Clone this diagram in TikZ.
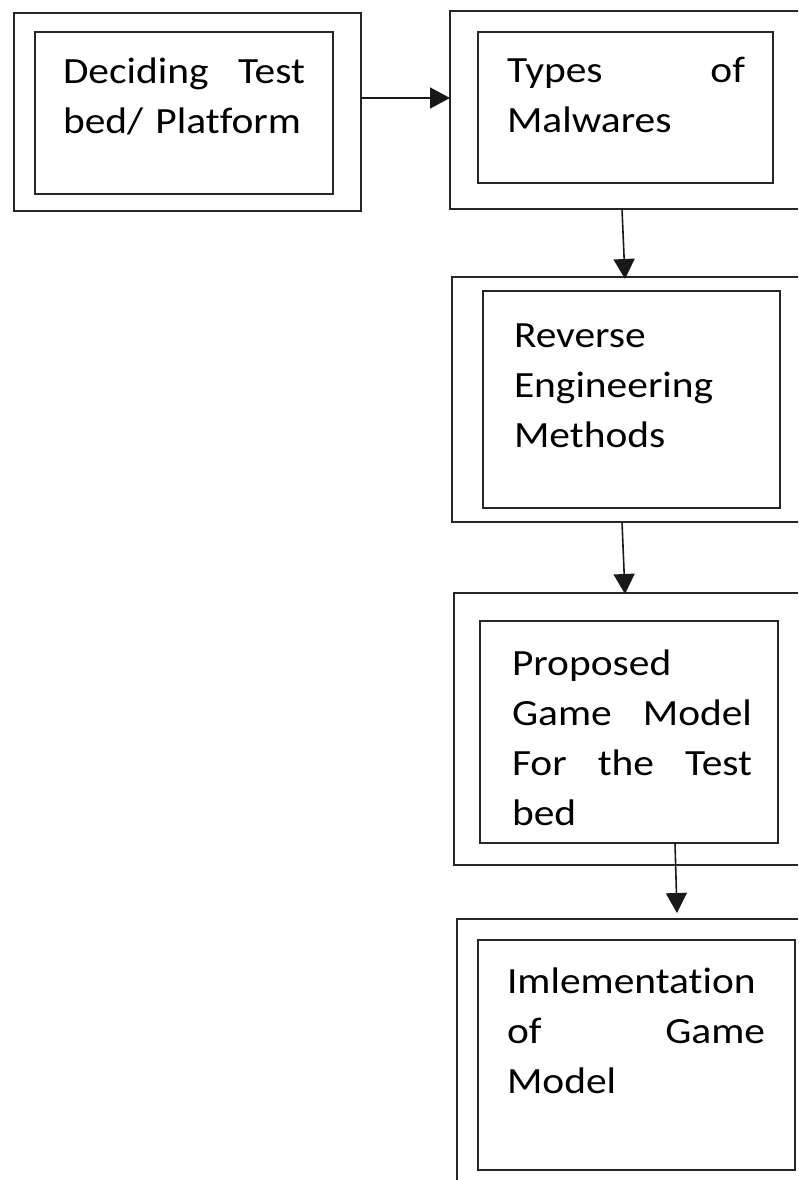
\documentclass[tikz,border=0pt]{standalone}
\usepackage{fontspec}
\setmainfont{Carlito}[FakeStretch=1.12, Ligatures=NoCommon]
\usetikzlibrary{arrows.meta}

% a line whose words are spread over the full text width
\newcommand\fullline[1]{\leavevmode\hbox to\linewidth{#1}}

\tikzset{
  box/.style={draw=black!85, line width=1.7pt, rectangle, inner sep=0pt, outer sep=0pt},
  label/.style={anchor=base west, inner sep=0pt, outer sep=0pt, align=left,
                font=\fontsize{37}{50}\selectfont},
  arr/.style={draw=black!90, line width=1.6pt, -{Triangle[length=20pt,width=21pt]}}
}

\begin{document}
\begin{tikzpicture}[x=1pt, y=-1pt]
  \useasboundingbox (0,0) rectangle (798,1180);
  \clip (0,0) rectangle (798,1180);

  % step 1
  \node[box, minimum width=347, minimum height=198] (b1o) at (187.5,112) {};
  \node[box, minimum width=298, minimum height=162] (b1i) at (184,113) {};
  \node[label, text width=242] (t1) at (63,84)
    {\fullline{Deciding\hfill Test}\\bed/ Platform};

  % step 2
  \node[box, minimum width=380, minimum height=198] (b2o) at (640,110) {};
  \node[box, minimum width=295, minimum height=151] (b2i) at (625.5,107.5) {};
  \node[label, text width=238] (t2) at (507,83)
    {\fullline{Types\hfill of}\\Malwares};

  % step 3
  \node[box, minimum width=378, minimum height=245] (b3o) at (641,399.5) {};
  \node[box, minimum width=297, minimum height=217] (b3i) at (631.5,399.5) {};
  \node[label, text width=240] (t3) at (514,347)
    {Reverse\\Engineering\\Methods};

  % step 4
  \node[box, minimum width=376, minimum height=272] (b4o) at (642,729) {};
  \node[box, minimum width=298, minimum height=222] (b4i) at (629,732) {};
  \node[label, text width=240] (t4) at (512,675)
    {Proposed\\\fullline{Game\hfill Model}\\\fullline{For\hfill the\hfill Test}\\bed};

  % step 5
  \node[box, minimum width=373, minimum height=281] (b5o) at (643.5,1059.5) {};
  \node[box, minimum width=317, minimum height=230] (b5i) at (636.5,1055) {};
  \node[label, text width=258] (t5) at (507,993)
    {Imlementation\\\fullline{of\hfill Game}\\Model};

  % connectors
  \coordinate (a4end) at ([xshift=220pt,yshift=6pt]b5o.north west);
  \draw[arr] ([yshift=14pt]b1o.east) -- ([yshift=12pt]b2o.west);
  \draw[arr] ([xshift=172pt]b2o.south west) -- ([xshift=173pt,yshift=-2pt]b3o.north west);
  \draw[arr] ([xshift=170pt]b3o.south west) -- ([xshift=171pt,yshift=-1pt]b4o.north west);
  \draw[arr] ([xshift=195pt]b4i.south west) -- (a4end);
\end{tikzpicture}
\end{document}
